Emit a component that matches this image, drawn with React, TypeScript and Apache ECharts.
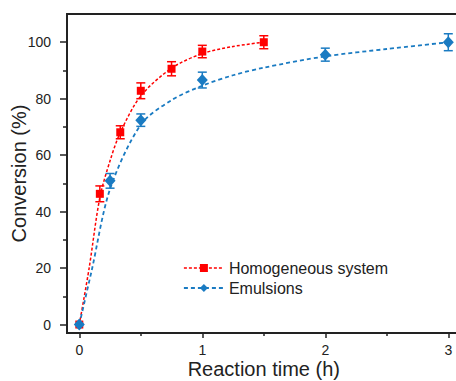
import React, { useEffect, useRef } from "react";
import * as echarts from "echarts";

const homoTime = [0, 0.167, 0.333, 0.5, 0.75, 1, 1.5];
const homoConv = [0, 46.3, 68.1, 82.8, 90.6, 96.7, 100];
const homoErr = [0, 2.8, 2.3, 2.8, 2.5, 2.2, 2.3];

const emulTime = [0, 0.25, 0.5, 1, 2, 3];
const emulConv = [0, 50.9, 72.4, 86.6, 95.6, 100];
const emulErr = [0, 2.6, 2.2, 2.8, 2.3, 3];

// Fitted (dashed) curves
const homoFitTime = [0, 0.08, 0.167, 0.25, 0.333, 0.5, 0.75, 1, 1.25, 1.5];
const homoFitConv = [0, 20, 45, 58, 68, 81, 90.8, 96, 98.5, 100];
const emulFitTime = [0, 0.1, 0.25, 0.5, 0.75, 1, 1.25, 1.5, 2, 2.5, 3];
const emulFitConv = [0, 19, 48, 70.8, 79.5, 84.6, 88.3, 91, 95, 97.6, 100];

const xMajor = [0, 1, 2, 3];
const xMinor = [0.5, 1.5, 2.5];
const yMajor = [0, 20, 40, 60, 80, 100];
const yMinor = [10, 30, 50, 70, 90];

const RED = "#ff0000";
const BLUE = "#1a7bc2";
const AXIS = "#222222";
const FONT = 'Arial, "Liberation Sans", sans-serif';

const GRID_LEFT = 67;
const GRID_TOP = 14;
const GRID_RIGHT = 9.4;
const GRID_BOTTOM = 48;
const CW = 470;
const CH = 381;
const GW = CW - GRID_LEFT - GRID_RIGHT;
const GH = CH - GRID_TOP - GRID_BOTTOM;

const zip2 = (a: number[], b: number[]) => a.map((v, i) => [v, b[i]]);
const zip3 = (a: number[], b: number[], c: number[]) => a.map((v, i) => [v, b[i], c[i]]);

function errorBars(name: string, data: number[][], color: string, capHalf: number) {
  return {
    type: "custom",
    name,
    data,
    encode: { x: 0, y: 1 },
    z: 3,
    silent: true,
    renderItem: (params: any, api: any) => {
      const x = api.value(0);
      const y = api.value(1);
      const e = api.value(2);
      if (!e) return { type: "group", children: [] };
      const top = api.coord([x, y + e]);
      const bot = api.coord([x, y - e]);
      const st = { stroke: color, lineWidth: 1.5 };
      return {
        type: "group",
        children: [
          { type: "line", shape: { x1: top[0], y1: top[1], x2: bot[0], y2: bot[1] }, style: st },
          { type: "line", shape: { x1: top[0] - capHalf, y1: top[1], x2: top[0] + capHalf, y2: top[1] }, style: st },
          { type: "line", shape: { x1: bot[0] - capHalf, y1: bot[1], x2: bot[0] + capHalf, y2: bot[1] }, style: st },
        ],
      };
    },
  };
}

export default function App() {
  const ref = useRef<HTMLDivElement>(null);
  useEffect(() => {
    if (!ref.current) return;
    const chart = echarts.init(ref.current, undefined, { renderer: "svg" });
    const baseX = {
      type: "value",
      min: -0.1,
      max: 3.1,
      splitLine: { show: false },
    };
    const baseY = {
      type: "value",
      min: -3,
      max: 110,
      splitLine: { show: false },
    };
    chart.setOption({
      animation: false,
      textStyle: { fontFamily: FONT },
      grid: {
        left: GRID_LEFT,
        top: GRID_TOP,
        right: GRID_RIGHT,
        bottom: GRID_BOTTOM,
        show: true,
        borderColor: AXIS,
        borderWidth: 1.8,
        containLabel: false,
        outerBoundsMode: "none",
      },
      legend: {
        orient: "vertical",
        left: 183,
        top: 260,
        padding: 0,
        itemWidth: 40,
        itemHeight: 10,
        itemGap: 4,
        textStyle: { fontSize: 16, color: AXIS, fontFamily: FONT, lineHeight: 16 },
        data: [
          {
            name: "Homogeneous system",
            lineStyle: { color: RED, type: [3, 2], width: 1.5, opacity: 1 },
            itemStyle: { color: RED },
          },
          {
            name: "Emulsions",
            lineStyle: { color: BLUE, type: [4, 3], width: 1.8, opacity: 1 },
            itemStyle: { color: BLUE },
          },
        ],
      },
      xAxis: [
        {
          ...baseX,
          position: "bottom",
          axisLine: { show: true, onZero: false, lineStyle: { color: AXIS, width: 1.8 } },
          axisTick: { show: true, customValues: xMajor, length: 5, lineStyle: { color: AXIS, width: 1.5 } },
          axisLabel: { customValues: xMajor, fontSize: 14, color: AXIS, margin: 10, fontFamily: FONT },
          name: "Reaction time (h)",
          nameLocation: "middle",
          nameGap: 26,
          nameMoveOverlap: false,
          nameTextStyle: { fontSize: 20, color: AXIS, fontFamily: FONT },
        },
        {
          // minor ticks: a top axis moved down onto the bottom edge, ticks pointing down
          ...baseX,
          position: "top",
          offset: -GH,
          axisLine: { show: false, onZero: false },
          axisTick: { show: true, inside: true, customValues: xMinor, length: 3, lineStyle: { color: AXIS, width: 1.5 } },
          axisLabel: { show: false },
        },
      ],
      yAxis: [
        {
          ...baseY,
          position: "left",
          axisLine: { show: true, onZero: false, lineStyle: { color: AXIS, width: 1.8 } },
          axisTick: { show: true, customValues: yMajor, length: 7, lineStyle: { color: AXIS, width: 1.5 } },
          axisLabel: { customValues: yMajor, fontSize: 14, color: AXIS, margin: 16, fontFamily: FONT },
          name: "Conversion (%)",
          nameLocation: "middle",
          nameGap: 38,
          nameMoveOverlap: false,
          nameTextStyle: { fontSize: 20, color: AXIS, fontFamily: FONT },
        },
        {
          // minor ticks: a right axis moved onto the left edge, ticks pointing left
          ...baseY,
          position: "right",
          offset: -GW,
          axisLine: { show: false, onZero: false },
          axisTick: { show: true, inside: true, customValues: yMinor, length: 4, lineStyle: { color: AXIS, width: 1.5 } },
          axisLabel: { show: false },
        },
      ],
      series: [
        {
          type: "line",
          name: "homoFit",
          data: zip2(homoFitTime, homoFitConv),
          smooth: 0.3,
          symbol: "none",
          lineStyle: { color: RED, width: 1.5, type: [3, 2] },
          z: 2,
          silent: true,
        },
        {
          type: "line",
          name: "emulFit",
          data: zip2(emulFitTime, emulFitConv),
          smooth: 0.3,
          symbol: "none",
          lineStyle: { color: BLUE, width: 1.8, type: [4, 3] },
          z: 2,
          silent: true,
        },
        errorBars("homoErr", zip3(homoTime, homoConv, homoErr), RED, 4.5),
        errorBars("emulErr", zip3(emulTime, emulConv, emulErr), BLUE, 4.5),
        {
          type: "line",
          name: "Homogeneous system",
          data: zip2(homoTime, homoConv),
          symbol: "rect",
          symbolSize: 8,
          itemStyle: { color: RED },
          lineStyle: { width: 0, opacity: 0 },
          z: 4,
        },
        {
          type: "line",
          name: "Emulsions",
          data: zip2(emulTime, emulConv),
          symbol: "diamond",
          symbolSize: [11, 12],
          itemStyle: { color: BLUE },
          lineStyle: { width: 0, opacity: 0 },
          z: 4,
        },
      ],
    });
    return () => chart.dispose();
  }, []);
  return (
    <div style={{ position: "absolute", left: 0, top: 0, width: 456, height: 381, overflow: "hidden", background: "#fff" }}>
      <div ref={ref} style={{ width: CW, height: CH }} />
    </div>
  );
}
